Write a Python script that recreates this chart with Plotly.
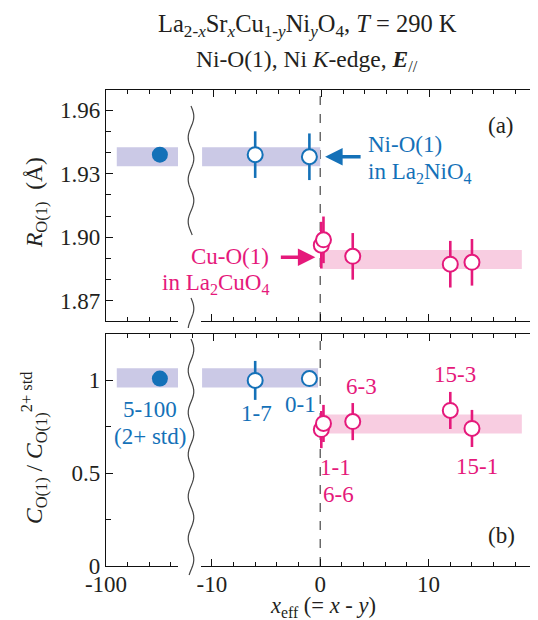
import numpy as np
import plotly.graph_objects as go

# ---------------- data ----------------
blue_filled_x = [-95]
a_blue_filled_y = [1.939]
b_blue_filled_y = [1.01]

blue_open_x = [-6, -1]
a_blue_open_y = [1.939, 1.938]
a_blue_open_err = [0.011, 0.011]
b_blue_open_y = [1.00, 1.01]
b_blue_open_err = [0.105, 0.0]

pink_x = [0.1, 0.3, 3, 12, 14]
a_pink_y = [1.8963, 1.8988, 1.891, 1.8873, 1.8882]
a_pink_err = [0.011, 0.011, 0.011, 0.011, 0.011]
b_pink_y = [0.735, 0.768, 0.778, 0.838, 0.741]
b_pink_err = [0.1, 0.1, 0.1, 0.1, 0.1]

# bands: (y0, y1)
a_blue_band = (1.9335, 1.9425)
a_pink_band = (1.885, 1.894)
b_blue_band = (0.962, 1.065)
b_pink_band = (0.714, 0.816)
blue_band_left_x = (-99.0, -93.3)
blue_band_right_x = (-10.9, 0.0)
pink_band_x = (0.0, 18.6)

sample_labels_blue = ["5-100", "(2+ std)", "1-7", "0-1"]
sample_labels_pink = ["6-3", "15-3", "15-1", "1-1", "6-6"]

# ---------------- style ----------------
BLUE = "#1471B8"
PINK = "#E5197B"
LAV = "#CBC9E6"
PINKBAND = "#F8CDE1"
TXT = "#231F20"
FONT = "Liberation Serif, Times New Roman, serif"
FS = 23

W, H = 538, 620
ML, MR, MT, MB = 98, 9, 82, 62
PW = W - ML - MR
PH = H - MT - MB


def px(xp):
    return (xp - ML) / PW


def py(yp):
    return (H - MB - yp) / PH


A_DOM = [py(313), 1.0]
B_DOM = [0.0, py(326)]
L_DOM = [0.0, px(170)]
R_DOM = [px(193), 1.0]
L_RANGE = [-100, -93.32]
R_RANGE = [-11, 20]
A_RANGE = [1.8605, 1.9695]
B_RANGE = [0, 1.25]

fig = go.Figure()


def add_pts(xs, ys, errs, xa, ya, color, filled):
    fig.add_trace(go.Scatter(
        x=xs, y=ys, xaxis=xa, yaxis=ya, mode="markers",
        marker=dict(size=16 if filled else 15, color=color if filled else "white",
                    line=dict(color=color, width=0 if filled else 2), symbol="circle"),
        error_y=dict(type="data", array=errs, visible=True,
                     color=color, thickness=2.6, width=0) if errs is not None else None,
        showlegend=False, cliponaxis=False, hoverinfo="skip"))


# panel (a)
add_pts(blue_filled_x, a_blue_filled_y, None, "x", "y", BLUE, True)
add_pts(blue_open_x, a_blue_open_y, a_blue_open_err, "x2", "y", BLUE, False)
add_pts(pink_x, a_pink_y, a_pink_err, "x2", "y", PINK, False)
# panel (b)
add_pts(blue_filled_x, b_blue_filled_y, None, "x3", "y3", BLUE, True)
add_pts(blue_open_x, b_blue_open_y, b_blue_open_err, "x4", "y3", BLUE, False)
add_pts(pink_x, b_pink_y, b_pink_err, "x4", "y3", PINK, False)

# empty traces to create frame-only subplots
for xa, ya in [("x2", "y2"), ("x4", "y4"), ("x5", "y"), ("x6", "y3")]:
    fig.add_trace(go.Scatter(x=[], y=[], xaxis=xa, yaxis=ya, showlegend=False))

LINE_W = 1.3
common = dict(showline=True, linecolor="#111", linewidth=LINE_W, ticks="inside",
              ticklen=7, tickwidth=LINE_W, tickcolor="#111", showgrid=False,
              zeroline=False, tickfont=dict(family=FONT, size=FS, color=TXT))
minor = dict(ticks="inside", ticklen=3.5, tickwidth=LINE_W, tickcolor="#111", showgrid=False)

xl = dict(common, range=L_RANGE, tick0=-100, dtick=10, minor=dict(minor, dtick=2))
xr = dict(common, range=R_RANGE, tick0=0, dtick=10, minor=dict(minor, dtick=2))
xt = dict(common, range=[-20, 20], tick0=0, dtick=10, minor=dict(minor, dtick=2),
          side="top", showticklabels=False)

ya_ = dict(common, range=A_RANGE, tick0=1.87, dtick=0.03, tickformat=".2f",
           minor=dict(minor, dtick=0.01, tick0=1.87, ticklen=4.5))
yb_ = dict(common, range=B_RANGE, tick0=0, dtick=0.5,
           minor=dict(minor, dtick=0.25, tick0=0, ticklen=4.5))

fig.update_layout(
    xaxis=dict(xl, domain=L_DOM, anchor="y", showticklabels=False),
    xaxis2=dict(xr, domain=R_DOM, anchor="y", showticklabels=False),
    xaxis3=dict(xl, domain=L_DOM, anchor="y3", tickvals=[-100], ticktext=["-100"],
                ticklabelstandoff=-3),
    xaxis4=dict(xr, domain=R_DOM, anchor="y3", tickvals=[-10, 0, 10, 20],
                ticktext=["-10", "0", "10", "20"], ticklabelstandoff=-3),
    xaxis5=dict(xt, domain=[0, 1], anchor="y"),
    xaxis6=dict(xt, domain=[0, 1], anchor="y3"),
    yaxis=dict(ya_, domain=A_DOM, anchor="x"),
    yaxis2=dict(ya_, domain=A_DOM, anchor="x2", side="right", showticklabels=False),
    yaxis3=dict(yb_, domain=B_DOM, anchor="x3", tickvals=[0, 0.5, 1],
                ticktext=["0", "0.5", "1"]),
    yaxis4=dict(yb_, domain=B_DOM, anchor="x4", side="right", showticklabels=False),
    width=W, height=H,
    margin=dict(l=ML, r=MR, t=MT, b=MB),
    paper_bgcolor="white", plot_bgcolor="rgba(0,0,0,0)",
    font=dict(family=FONT, size=FS, color=TXT),
    showlegend=False,
)

shapes = []
# bands
for xa, ya, xr_, yr_, col in [
    ("x", "y", blue_band_left_x, a_blue_band, LAV),
    ("x2", "y", blue_band_right_x, a_blue_band, LAV),
    ("x2", "y", pink_band_x, a_pink_band, PINKBAND),
    ("x3", "y3", blue_band_left_x, b_blue_band, LAV),
    ("x4", "y3", (blue_band_right_x[0], -0.2), b_blue_band, LAV),
    ("x4", "y3", pink_band_x, b_pink_band, PINKBAND),
]:
    shapes.append(dict(type="rect", xref=xa, yref=ya, x0=xr_[0], x1=xr_[1],
                       y0=yr_[0], y1=yr_[1], fillcolor=col, line=dict(width=0),
                       layer="below"))
# dashed x=0 lines
for xa, ya in [("x2", "y domain"), ("x4", "y3 domain")]:
    shapes.append(dict(type="line", xref=xa, yref=ya, x0=0, x1=0, y0=0, y1=1,
                       line=dict(color="#555", width=1.3, dash="dash"), layer="below"))


# wavy break lines
def wavy(y_top, y_bot, cx=183, amp=2.8, period=42):
    ys = np.linspace(y_top, y_bot, 80)
    xs = cx + amp * np.sin(2 * np.pi * (ys - y_top) / period)
    pts = [f"{px(x):.5f},{py(y):.5f}" for x, y in zip(xs, ys)]
    return "M" + " L".join(pts)


for yt, yb in [(98, 227), (290, 320), (331, 567)]:
    shapes.append(dict(type="path", xref="paper", yref="paper", path=wavy(yt, yb),
                       line=dict(color="#444", width=1.2)))
fig.update_layout(shapes=shapes)

ann = []


def text(s, x, y, color=TXT, size=FS, xanchor="center", yanchor="middle", angle=0):
    ann.append(dict(text=s, x=px(x), y=py(y), xref="paper", yref="paper",
                    showarrow=False, xanchor=xanchor, yanchor=yanchor, textangle=angle,
                    font=dict(family=FONT, size=size, color=color)))


# title
text("La<sub>2-<i>x</i></sub>Sr<sub><i>x</i></sub>Cu<sub>1-<i>y</i></sub>Ni<sub><i>y</i></sub>O<sub>4</sub>, <i>T</i> = 290 K",
     299, 35, size=24.5, yanchor="bottom")
text("Ni-O(1), Ni <i>K</i>-edge, <b><i>E</i></b><sub>//</sub>", 299, 36, size=23.5, yanchor="top")
# axis titles
text("<i>R</i><sub>O(1)</sub>  (Å)", 28, 195, angle=-90, size=23.5)
text("<i>C</i><sub>O(1)</sub> / <i>C</i><sub>O(1)</sub><sup>2+ std</sup>", 26, 440, angle=-90, size=23.5)
text("<i>x</i><sub>eff</sub> (= <i>x</i> - <i>y</i>)", 315, 614.5, size=22.5, yanchor="bottom")
# panel labels
text("(a)", 493, 118)
text("(b)", 493, 527)
# notes
text("Ni-O(1)", 358, 136, color=BLUE, xanchor="left")
text("in La<sub>2</sub>NiO<sub>4</sub>", 358, 165, color=BLUE, xanchor="left")
text("Cu-O(1)", 263, 248, color=PINK, xanchor="right")
text("in La<sub>2</sub>CuO<sub>4</sub>", 263, 276, color=PINK, xanchor="right")
# sample labels
text(sample_labels_blue[0], 142, 401, color=BLUE)
text(sample_labels_blue[1], 142, 428, color=BLUE)
text(sample_labels_blue[2], 248, 405, color=BLUE)
text(sample_labels_blue[3], 292, 396, color=BLUE)
text(sample_labels_pink[0], 353, 378, color=PINK)
text(sample_labels_pink[1], 447, 366, color=PINK)
text(sample_labels_pink[2], 469, 458, color=PINK)
text(sample_labels_pink[3], 327, 459, color=PINK)
text(sample_labels_pink[4], 330, 486, color=PINK)

# arrows
ann.append(dict(text="", x=0.45, y=a_blue_band[0] + (a_blue_band[1] - a_blue_band[0]) / 2,
                xref="x2", yref="y", ax=37, ay=0, showarrow=True, arrowhead=2,
                arrowsize=1.0, arrowwidth=3.5, arrowcolor=BLUE))
ann.append(dict(text="", x=-0.45, y=1.8906, xref="x2", yref="y", ax=-36, ay=0,
                showarrow=True, arrowhead=2, arrowsize=1.0, arrowwidth=3.5,
                arrowcolor=PINK))
fig.update_layout(annotations=ann)

fig.write_html("out.html")
